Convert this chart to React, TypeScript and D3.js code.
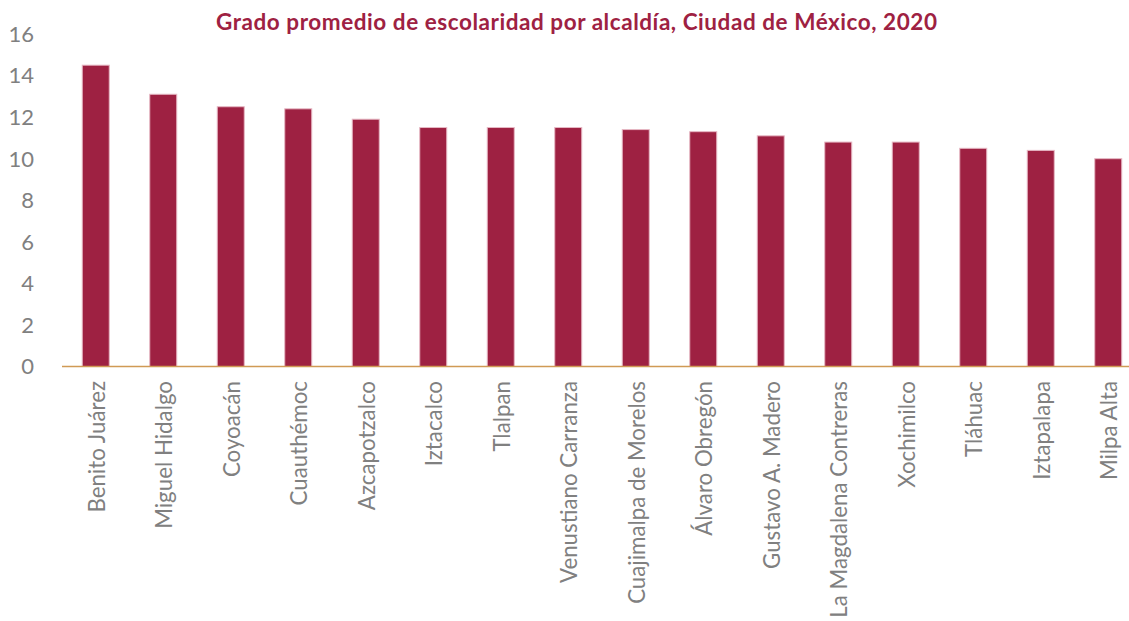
import React from 'react';
import * as d3 from 'd3';

const alcaldias = [
  'Benito Juárez', 'Miguel Hidalgo', 'Coyoacán', 'Cuauthémoc', 'Azcapotzalco',
  'Iztacalco', 'Tlalpan', 'Venustiano Carranza', 'Cuajimalpa de Morelos', 'Álvaro Obregón',
  'Gustavo A. Madero', 'La Magdalena Contreras', 'Xochimilco', 'Tláhuac', 'Iztapalapa', 'Milpa Alta',
];
const grado = [14.5, 13.1, 12.5, 12.4, 11.9, 11.5, 11.5, 11.5, 11.4, 11.3, 11.1, 10.8, 10.8, 10.5, 10.4, 10.0];
const yTicks = [0, 2, 4, 6, 8, 10, 12, 14, 16];

const W = 1129;
const H = 621;
const FONT = 'Lato, "Open Sans", sans-serif';

export default function App() {
  // plot area
  const left = 62;
  const right = 1142;
  const top = 34;
  const bottom = 366.5;

  const x = d3.scaleBand<string>().domain(alcaldias).range([left, right]).paddingInner(0.6).paddingOuter(0.3);
  const y = d3.scaleLinear().domain([0, 16]).range([bottom, top]);

  return (
    <svg width={W} height={H} style={{ position: 'absolute', left: 0, top: 0, background: '#fff' }}>
      <text x={216} y={30} fontFamily={FONT} fontWeight={700} fontSize={22.5} fill="#9E2142"
        textLength={721} lengthAdjust="spacing">
        Grado promedio de escolaridad por alcaldía, Ciudad de México, 2020
      </text>

      {yTicks.map(t => (
        <text key={t} x={34} y={y(t)} dy="0.36em" textAnchor="end" fontFamily={FONT} fontWeight={400} fontSize={22} fill="#808080">
          {t}
        </text>
      ))}

      {alcaldias.map((a, i) => (
        <rect
          key={a}
          x={x(a)}
          y={y(grado[i])}
          width={x.bandwidth()}
          height={y(0) - y(grado[i])}
          fill="#9E2142"
          stroke="#e6b8c4"
          strokeWidth={1}
        />
      ))}

      <line x1={left} x2={W} y1={y(0)} y2={y(0)} stroke="#D09A55" strokeWidth={1.5} />

      {alcaldias.map(a => {
        const cx = (x(a) ?? 0) + x.bandwidth() / 2;
        return (
          <text
            key={a}
            transform={`translate(${cx + 9},381) rotate(-90)`}
            textAnchor="end"
            fontFamily={FONT}
            fontWeight={400}
            fontSize={22.3}
            fill="#808080"
          >
            {a}
          </text>
        );
      })}
    </svg>
  );
}
